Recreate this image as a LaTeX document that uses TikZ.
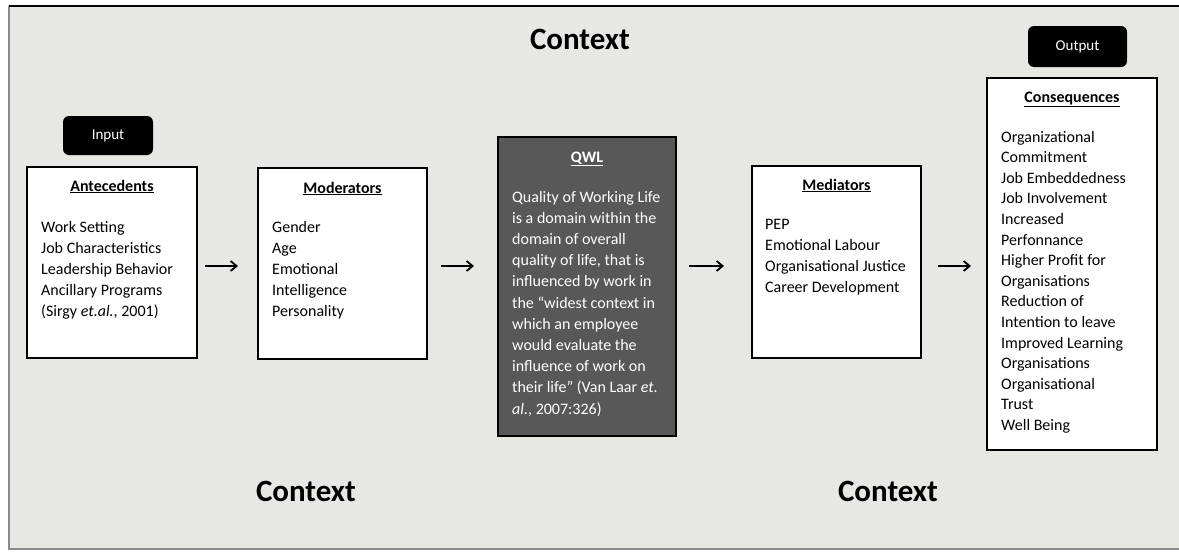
\documentclass[tikz,border=0pt]{standalone}
\usepackage{fontspec}
\setmainfont{Carlito}
\usetikzlibrary{arrows.meta}

\definecolor{panel}{HTML}{E7E7E4}
\definecolor{qwlfill}{HTML}{585858}
\definecolor{edge}{HTML}{8A8A8A}

% a list of lines with a fixed line pitch; node baseline = first line
\newcommand{\itemlines}[2]{%
  {\fontsize{16}{#1}\selectfont
   \begin{tabular}[t]{@{}l@{}}#2\end{tabular}}}

\tikzset{
  wbox/.style={draw=black, line width=2pt, fill=white, inner sep=0pt},
  dbox/.style={draw=black, line width=2pt, fill=qwlfill, inner sep=0pt},
  tag/.style={fill=black, rounded corners=6pt, inner sep=0pt,
              text=white, font=\fontsize{15}{17}\selectfont},
  head/.style={anchor=base, inner sep=0pt,
               font=\fontsize{16}{19}\selectfont\bfseries},
  body/.style={anchor=base west, inner sep=0pt},
  ctx/.style={anchor=base, inner sep=0pt,
              font=\fontsize{31}{36}\selectfont\bfseries},
  arr/.style={line width=1.8pt, -{Straight Barb[length=6pt,width=10pt]}},
}

\begin{document}
\begin{tikzpicture}[x=1pt, y=-1pt]
\useasboundingbox (0,0) rectangle (1179,552);

% page and panel
\fill[white] (0,0) rectangle (1179,552);
\fill[panel] (9,6) rectangle (1179,549);
\draw[edge, line width=2pt] (9,6) -- (9,549) -- (1179,549);
\draw[black, line width=2.5pt] (9,6) -- (1179,6);

% context labels
\node[ctx] (ctxtop) at (580,49) {Context};
\node[ctx] (ctxleft) at (306,501) {Context};
\node[ctx] (ctxright) at (888,501) {Context};

% input / output tags
\node[tag, minimum width=90pt, minimum height=39pt] (input) at (108,135.5) {Input};
\node[tag, minimum width=99pt, minimum height=41pt] (output) at (1077.5,46.5) {Output};

% boxes
\node[wbox, minimum width=170pt, minimum height=191pt] (ante) at (112,262.5) {};
\node[wbox, minimum width=169pt, minimum height=191pt] (mod) at (342.5,263.5) {};
\node[dbox, minimum width=178pt, minimum height=299pt] (qwl) at (587,286.5) {};
\node[wbox, minimum width=169pt, minimum height=192pt] (med) at (836.5,262) {};
\node[wbox, minimum width=170pt, minimum height=372pt] (cons) at (1072,264) {};

% antecedents
\node[head] (antehead) at (112,191) {\underline{Antecedents}};
\node[body] (antelist) at (41,232) {\itemlines{21.2}{%
  Work Setting\\ Job Characteristics\\ Leadership Behavior\\
  Ancillary Programs\\ (Sirgy \emph{et.al.}, 2001)}};

% moderators
\node[head] (modhead) at (342.5,193) {\underline{Moderators}};
\node[body] (modlist) at (272,232) {\itemlines{21.2}{%
  Gender\\ Age\\ Emotional\\ Intelligence\\ Personality}};

% quality of working life
\node[head, text=white] (qwlhead) at (587,162) {\underline{QWL}};
\node[body, text=white] (qwltext) at (512,202) {\itemlines{21.2}{%
  Quality of Working Life\\ is a domain within the\\ domain of overall\\
  quality of life, that is\\ influenced by work in\\
  the “widest context in\\ which an employee\\ would evaluate the\\
  influence of work on\\ their life” (Van Laar \emph{et.}\\
  \emph{al.}, 2007:326)}};

% mediators
\node[head] (medhead) at (836.5,190) {\underline{Mediators}};
\node[body] (medlist) at (765,229) {\itemlines{21.2}{%
  PEP\\ Emotional Labour\\ Organisational Justice\\ Career Development}};

% consequences
\node[head] (conshead) at (1072,102) {\underline{Consequences}};
\node[body] (conslist) at (1001,142) {\itemlines{20.6}{%
  Organizational\\ Commitment\\ Job Embeddedness\\ Job Involvement\\
  Increased\\ Perfonnance\\ Higher Profit for\\ Organisations\\
  Reduction of\\ Intention to leave\\ Improved Learning\\ Organisations\\
  Organisational\\ Trust\\ Well Being}};

% flow arrows
\coordinate (lvl) at (0,266);
\draw[arr, shorten <=7pt, shorten >=19pt] (ante.east |- lvl) -- (mod.west |- lvl);
\draw[arr, shorten <=13pt, shorten >=23pt] (mod.east |- lvl) -- (qwl.west |- lvl);
\draw[arr, shorten <=12pt, shorten >=27pt] (qwl.east |- lvl) -- (med.west |- lvl);
\draw[arr, shorten <=16pt, shorten >=15pt] (med.east |- lvl) -- (cons.west |- lvl);
\end{tikzpicture}
\end{document}
